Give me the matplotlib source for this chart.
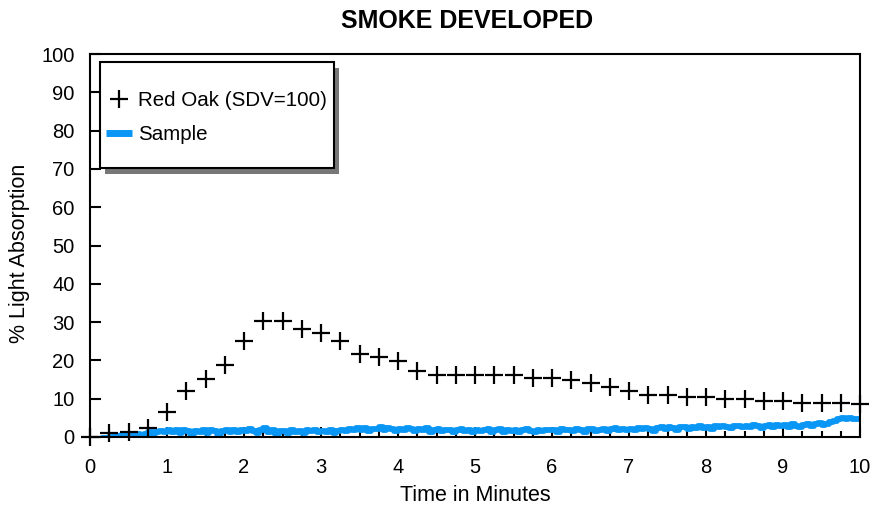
import matplotlib
matplotlib.use("Agg")
import matplotlib.pyplot as plt
from matplotlib.patches import Rectangle
from matplotlib.ticker import MultipleLocator

plt.rcParams['font.family'] = ['Liberation Sans', 'DejaVu Sans']

# Red Oak reference curve, sampled every 15 s
oak_time = [i * 0.25 for i in range(41)]
oak_values = [0.0, 1.0, 1.4, 2.4, 6.6, 12.1, 15.1, 18.8, 25.1, 30.4,
              30.4, 28.1, 27.2, 25.1, 21.8, 20.8, 19.9, 17.2, 16.2, 16.2,
              16.2, 16.3, 16.3, 15.5, 15.5, 15.0, 14.0, 13.0, 12.1, 11.0,
              11.0, 10.5, 10.5, 10.0, 10.0, 9.5, 9.5, 9.0, 9.0, 9.0,
              8.5]

# Sample smoke reading, every 3 s
sample_time = [i * 0.05 for i in range(201)]
sample_values = [
    -0.6, -0.4, -0.5, -0.2, -0.3, 0.1, 0.0, 0.3, 0.4, 0.2,
    0.6, 0.4, 0.8, 0.5, 0.9, 1.2, 0.8, 1.3, 1.6, 1.2,
    1.9, 1.2, 1.8, 1.0, 1.7, 1.5, 0.7, 1.6, 1.4, 1.9,
    1.1, 1.7, 1.5, 0.9, 1.6, 1.8, 1.2, 1.7, 1.4, 1.9,
    1.5, 2.1, 1.6, 1.1, 1.8, 2.3, 1.3, 1.7, 0.9, 1.6,
    1.5, 1.1, 1.8, 1.4, 1.6, 1.0, 1.7, 1.5, 1.9, 1.2,
    1.6, 1.3, 1.7, 1.1, 1.5, 1.8, 1.6, 2.2, 1.8, 2.3,
    1.9, 2.4, 1.6, 2.2, 2.0, 2.5, 1.7, 2.3, 2.1, 1.6,
    2.2, 1.8, 2.4, 2.0, 1.5, 2.1, 1.9, 2.3, 1.4, 1.8,
    2.0, 1.5, 1.9, 1.7, 1.3, 1.8, 2.0, 1.5, 1.8, 1.4,
    1.9, 1.6, 1.8, 2.1, 1.4, 1.7, 2.0, 1.3, 1.8, 1.6,
    1.9, 1.4, 1.7, 2.0, 1.6, 1.2, 1.8, 1.6, 1.9, 1.7,
    1.8, 1.4, 2.0, 1.7, 1.9, 1.5, 2.1, 1.8, 1.4, 2.0,
    2.2, 1.6, 1.9, 2.1, 1.5, 2.0, 2.3, 1.7, 2.1, 1.9,
    2.2, 1.7, 2.3, 2.0, 2.4, 2.1, 1.6, 2.3, 2.5, 2.1,
    2.6, 2.3, 1.9, 2.5, 2.7, 2.2, 2.6, 2.4, 2.8, 2.4,
    2.7, 2.2, 2.8, 2.5, 2.9, 2.6, 2.3, 2.8, 3.0, 2.5,
    2.9, 2.7, 3.1, 2.8, 2.4, 3.0, 3.2, 2.7, 3.1, 2.9,
    3.2, 2.7, 3.3, 3.0, 2.6, 3.1, 3.4, 2.9, 3.3, 3.6,
    3.2, 3.5, 3.8, 4.3, 4.6, 5.0, 4.7, 4.9, 4.6, 4.8,
    4.7]

x_ticks = list(range(0, 11))
y_ticks = list(range(0, 101, 10))

BLUE = '#0A96F5'
TICK_FS = 14.5

fig = plt.figure(figsize=(8.75, 5.08), dpi=100)
ax = fig.add_axes([90 / 875, 1 - 437 / 508, 770 / 875, 383 / 508])

ax.plot(sample_time, sample_values, color=BLUE, lw=4.2,
        drawstyle='steps-post', solid_capstyle='butt', zorder=2)
ax.plot(oak_time, oak_values, ls='none', marker='+', ms=13, mew=1.6,
        color='black', zorder=4, clip_on=False)

ax.set_xlim(0, 10)
ax.set_ylim(0, 100)
ax.set_xticks(x_ticks)
ax.set_yticks(y_ticks)
ax.xaxis.set_minor_locator(MultipleLocator(0.25))
ax.tick_params(axis='both', which='both', direction='in', width=1.5,
               labelsize=TICK_FS)
ax.tick_params(axis='x', which='major', length=7, pad=15)
ax.tick_params(axis='x', which='minor', length=4.5)
ax.tick_params(axis='y', which='major', length=8, pad=11)
for s in ax.spines.values():
    s.set_linewidth(1.5)

ax.set_xlabel('Time in Minutes', fontsize=15.5, labelpad=6)
ax.set_ylabel('% Light Absorption', fontsize=15.5, labelpad=8, y=0.48)
ax.set_title('SMOKE DEVELOPED', fontsize=18, fontweight='bold', pad=19,
             x=0.49)

# Legend box with a drop shadow
ax.add_patch(Rectangle((15 / 770, (437 - 174) / 383), 234 / 770, 106 / 383,
                       transform=ax.transAxes, facecolor='#777777',
                       edgecolor='none', zorder=5))
ax.add_patch(Rectangle((10 / 770, (437 - 168) / 383), 234 / 770, 106 / 383,
                       transform=ax.transAxes, facecolor='white',
                       edgecolor='black', lw=1.5, zorder=6))
oak_handle, = ax.plot([], [], ls='none', marker='+', ms=13, mew=1.6, color='black')
sample_handle, = ax.plot([], [], color=BLUE, lw=5, solid_capstyle='butt')
leg = ax.legend([oak_handle, sample_handle],
                ['Red Oak (SDV=100)', 'Sample'],
                loc='upper left', bbox_to_anchor=(16 / 770, (437 - 91) / 383),
                frameon=False, fontsize=14.8, handlelength=1.26,
                handletextpad=0.3, borderpad=0, borderaxespad=0,
                labelspacing=0.75)
leg.set_zorder(7)

fig.savefig('out.png', dpi=100)
